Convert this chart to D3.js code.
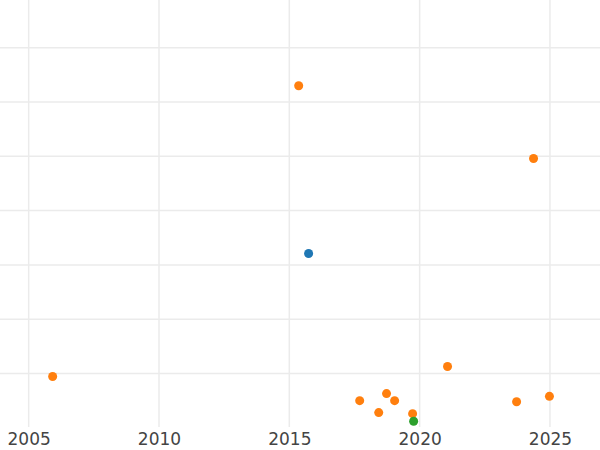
<!DOCTYPE html><html><head><meta charset="utf-8">
<script src="https://cdn.jsdelivr.net/npm/d3@7"></script>
<style>body{margin:0;background:#fff}</style></head><body>
<svg id="c" width="600" height="450"></svg>
<script>
const years=[2005.92,2015.36,2024.37,2021.07,2017.70,2018.73,2019.04,2018.43,2019.73,2023.72,2024.98,2015.74,2019.77];
const values=[0.945,6.30,4.96,1.13,0.50,0.63,0.50,0.28,0.26,0.48,0.58,3.21,0.12];
const groups=["b","b","b","b","b","b","b","b","b","b","b","a","c"];
const xTicks=[2005,2010,2015,2020,2025];
const yTicks=[1,2,3,4,5,6,7];
const colors={a:"#1f77b4",b:"#ff7f0e",c:"#2ca02c"};
const svg=d3.select("#c");
const x=d3.scaleLinear().domain([2003.90,2026.92]).range([0,600]);
const y=d3.scaleLinear().domain([0,7.87]).range([427.8,0.5]);
svg.append("g").selectAll("line").data(yTicks).join("line")
 .attr("x1",0).attr("x2",600).attr("y1",d=>y(d)).attr("y2",d=>y(d))
 .attr("stroke","#ebebeb").attr("stroke-width",1.5);
svg.append("g").selectAll("line").data(xTicks).join("line")
 .attr("x1",d=>x(d)).attr("x2",d=>x(d)).attr("y1",0).attr("y2",427)
 .attr("stroke","#ebebeb").attr("stroke-width",1.5);
const ax=svg.append("g").attr("transform","translate(0,427)")
 .call(d3.axisBottom(x).tickValues(xTicks).tickFormat(d3.format("d")).tickSize(0).tickPadding(6));
ax.select(".domain").remove();
ax.selectAll("text").attr("font-family","DejaVu Sans").attr("font-size",17).attr("fill","#444");
svg.append("g").selectAll("circle").data(years).join("circle")
 .attr("cx",d=>x(d)).attr("cy",(d,i)=>y(values[i])).attr("r",4.5)
 .attr("fill",(d,i)=>colors[groups[i]]);
</script></body></html>
